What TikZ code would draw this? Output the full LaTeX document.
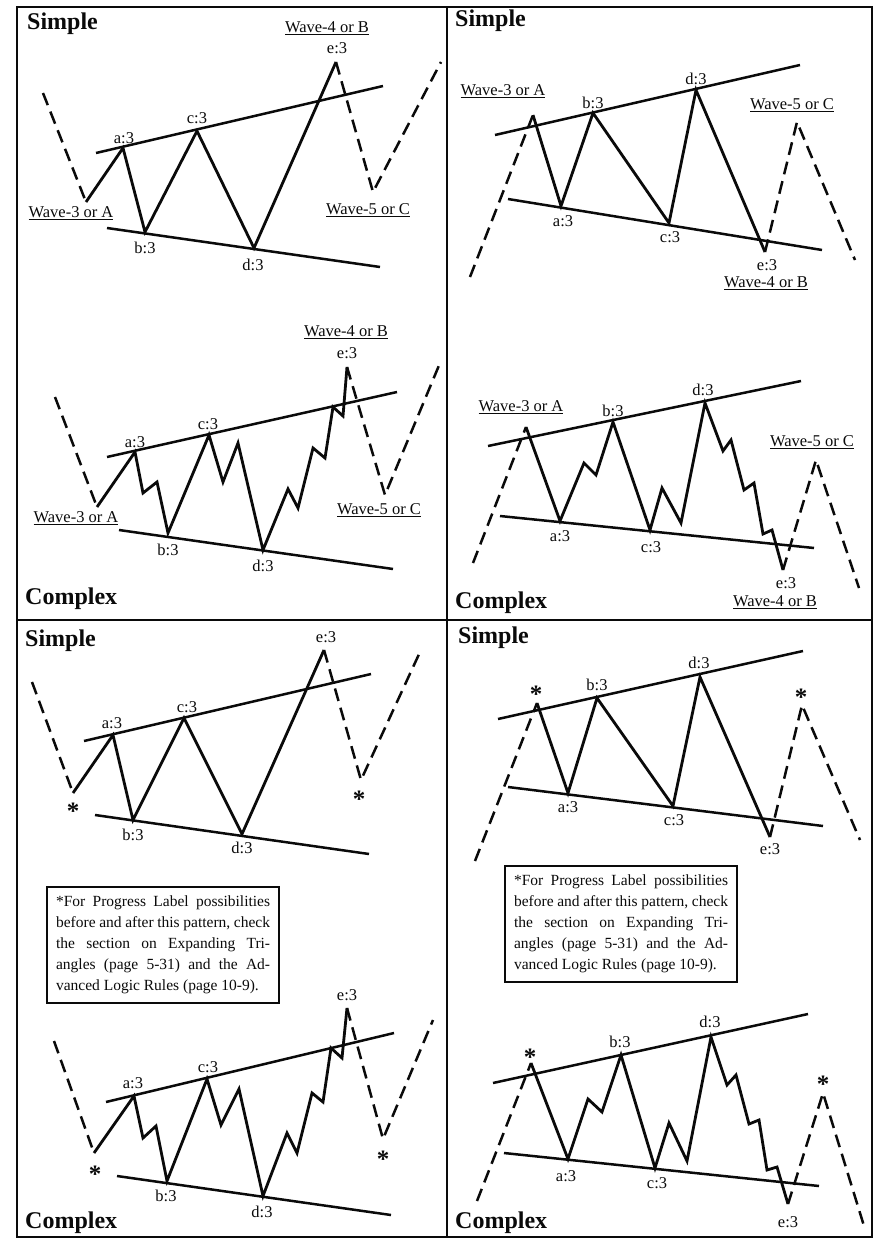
\documentclass[tikz,border=0pt]{standalone}
\usepackage{fontspec}
\setmainfont{Liberation Serif}
\usepackage{tikz}
\definecolor{inkblack}{RGB}{10,10,10}
\newcommand{\progressnote}{*For Progress Label possibilities\linebreak before and after this pattern, check\linebreak the section on Expanding Tri-\linebreak angles (page 5-31) and the Ad-\linebreak vanced Logic Rules (page 10-9).}

\begin{document}
\begin{tikzpicture}[x=1pt, y=-1pt, inkblack,
	wave/.style={line width=2.8pt},
	proj/.style={line width=2.5pt, dash pattern=on 13pt off 7pt},
	trend/.style={line width=2.5pt},
	lbl/.style={font=\fontsize{16.5}{18}\selectfont, inner sep=0pt},
	head/.style={font=\fontsize{24}{26}\selectfont\bfseries, inner sep=0pt, anchor=west},
	star/.style={font=\fontsize{25}{26}\selectfont\bfseries, inner sep=0pt},
	note/.style={draw, line width=2.2pt, text width=214pt, inner xsep=9pt, inner ysep=0pt,
		minimum height=116pt, align=justify, anchor=north west,
		font=\fontsize{15.5}{21}\selectfont,
		execute at begin node={\tolerance=10000 \hyphenpenalty=10000 \exhyphenpenalty=10000}}]
	\fill[white] (0,0) rectangle (877,1239);
	\useasboundingbox (0,0) rectangle (877,1239);
	% frame
	\draw[line width=2.2pt] (17,7) rectangle (872,1237);
	\draw[line width=2.8pt] (447,7) -- (447,1237);
	\draw[line width=2.8pt] (17,620) -- (872,620);
	\foreach \w/\x/\y/\t in {tl/27/24/Simple, tr/455/21/Simple, ml/25/599/Complex, mr/455/603/Complex,
		bl/25/641/Simple, br/458/638/Simple, cl/25/1223/Complex, cr/455/1223/Complex}
		\node[head] (h\w) at (\x,\y) {\t};

	% top left, simple
	\draw[proj] (43,93) -- (86,202);
	\draw[wave] (86,202) -- (123,148) -- (145,232) -- (197,131) -- (254,248) -- (336,62);
	\draw[proj] (336,62) -- (373,192) -- (441,62);
	\draw[trend] (96,153) -- (383,86);
	\draw[trend] (107,228) -- (380,267);
	\foreach \w/\x/\y in {a/124/138, b/145/248, c/197/118, d/253/265, e/337/48}
		\node[lbl] (tl\w) at (\x,\y) {\w:3};
	\node[lbl] (tlwb) at (327,28) {\underline{Wave-4 or B}};
	\node[lbl] (tlwa) at (71,213) {\underline{Wave-3 or A}};
	\node[lbl] (tlwc) at (368,210) {\underline{Wave-5 or C}};

	% top right, simple
	\draw[proj] (470,277) -- (533,115);
	\draw[wave] (533,115) -- (561,206) -- (593,113) -- (669,223) -- (696,90) -- (765,252);
	\draw[proj] (765,252) -- (797,122) -- (855,260);
	\draw[trend] (495,135) -- (800,65);
	\draw[trend] (508,199) -- (822,250);
	\foreach \w/\x/\y in {a/563/221, b/593/103, c/670/237, d/696/79, e/767/265}
		\node[lbl] (tr\w) at (\x,\y) {\w:3};
	\node[lbl] (trwa) at (503,91) {\underline{Wave-3 or A}};
	\node[lbl] (trwc) at (792,105) {\underline{Wave-5 or C}};
	\node[lbl] (trwb) at (766,283) {\underline{Wave-4 or B}};

	% middle left, complex
	\draw[proj] (55,397) -- (97,507);
	\draw[wave] (97,507) -- (135,452) -- (143,493) -- (157,482) -- (168,533) -- (209,435) -- (223,482)
		-- (238,443) -- (263,550) -- (288,489) -- (298,508) -- (313,448) -- (325,458) -- (333,407)
		-- (343,416) -- (347,367);
	\draw[proj] (347,367) -- (385,495) -- (440,363);
	\draw[trend] (107,457) -- (397,392);
	\draw[trend] (119,530) -- (393,569);
	\foreach \w/\x/\y in {a/135/442, b/168/550, c/208/424, d/263/566, e/347/353}
		\node[lbl] (ml\w) at (\x,\y) {\w:3};
	\node[lbl] (mlwb) at (346,332) {\underline{Wave-4 or B}};
	\node[lbl] (mlwa) at (76,518) {\underline{Wave-3 or A}};
	\node[lbl] (mlwc) at (379,510) {\underline{Wave-5 or C}};

	% middle right, complex
	\draw[proj] (473,563) -- (526,427);
	\draw[wave] (526,427) -- (560,521) -- (584,463) -- (596,475) -- (613,422) -- (650,530) -- (662,488)
		-- (681,523) -- (705,403) -- (723,451) -- (731,440) -- (744,490) -- (754,483) -- (763,534)
		-- (772,530) -- (783,570);
	\draw[proj] (783,570) -- (816,460) -- (859,588);
	\draw[trend] (488,446) -- (801,381);
	\draw[trend] (500,516) -- (814,548);
	\foreach \w/\x/\y in {a/560/536, b/613/411, c/651/547, d/703/390, e/786/583}
		\node[lbl] (mr\w) at (\x,\y) {\w:3};
	\node[lbl] (mrwa) at (521,407) {\underline{Wave-3 or A}};
	\node[lbl] (mrwc) at (812,442) {\underline{Wave-5 or C}};
	\node[lbl] (mrwb) at (775,602) {\underline{Wave-4 or B}};

	% bottom left, simple
	\draw[proj] (32,682) -- (73,793);
	\draw[wave] (73,793) -- (113,735) -- (133,820) -- (184,718) -- (242,834) -- (324,650);
	\draw[proj] (324,650) -- (361,780) -- (420,652);
	\draw[trend] (84,741) -- (371,674);
	\draw[trend] (95,815) -- (369,854);
	\foreach \w/\x/\y in {a/112/723, b/133/835, c/187/707, d/242/848, e/326/637}
		\node[lbl] (bl\w) at (\x,\y) {\w:3};
	\node[star] (blsa) at (73,811) {*};
	\node[star] (blsc) at (359,799) {*};
	\node[note] (blnote) at (46,886) {\progressnote};

	% bottom right, simple
	\draw[proj] (475,861) -- (537,703);
	\draw[wave] (537,703) -- (568,793) -- (597,698) -- (673,806) -- (700,677) -- (770,837);
	\draw[proj] (770,837) -- (802,705) -- (860,840);
	\draw[trend] (498,719) -- (803,651);
	\draw[trend] (508,787) -- (823,826);
	\foreach \w/\x/\y in {a/568/807, b/597/685, c/674/820, d/699/663, e/770/849}
		\node[lbl] (br\w) at (\x,\y) {\w:3};
	\node[star] (brsa) at (536,694) {*};
	\node[star] (brsc) at (801,697) {*};
	\node[note] (brnote) at (504,865) {\progressnote};

	% bottom left, complex
	\draw[proj] (54,1041) -- (94,1153);
	\draw[wave] (94,1153) -- (134,1096) -- (143,1138) -- (156,1126) -- (167,1181) -- (207,1079)
		-- (221,1125) -- (239,1089) -- (263,1196) -- (287,1133) -- (297,1153) -- (312,1093)
		-- (323,1102) -- (331,1048) -- (342,1058) -- (347,1008);
	\draw[proj] (347,1008) -- (383,1139) -- (433,1020);
	\draw[trend] (106,1102) -- (394,1033);
	\draw[trend] (117,1176) -- (391,1215);
	\foreach \w/\x/\y in {a/133/1083, b/166/1196, c/208/1067, d/262/1212, e/347/995}
		\node[lbl] (cl\w) at (\x,\y) {\w:3};
	\node[star] (clsa) at (95,1174) {*};
	\node[star] (clsc) at (383,1159) {*};

	% bottom right, complex
	\draw[proj] (477,1201) -- (531,1063);
	\draw[wave] (531,1063) -- (568,1159) -- (588,1099) -- (602,1112) -- (621,1055) -- (655,1168)
		-- (669,1123) -- (687,1161) -- (711,1037) -- (727,1085) -- (736,1075) -- (749,1124)
		-- (759,1120) -- (767,1170) -- (777,1167) -- (788,1204);
	\draw[proj] (788,1204) -- (823,1093) -- (864,1226);
	\draw[trend] (493,1083) -- (808,1014);
	\draw[trend] (504,1153) -- (819,1186);
	\foreach \w/\x/\y in {a/566/1176, b/620/1042, c/657/1183, d/710/1022, e/788/1222}
		\node[lbl] (cr\w) at (\x,\y) {\w:3};
	\node[star] (crsa) at (530,1057) {*};
	\node[star] (crsc) at (823,1084) {*};
\end{tikzpicture}
\end{document}
